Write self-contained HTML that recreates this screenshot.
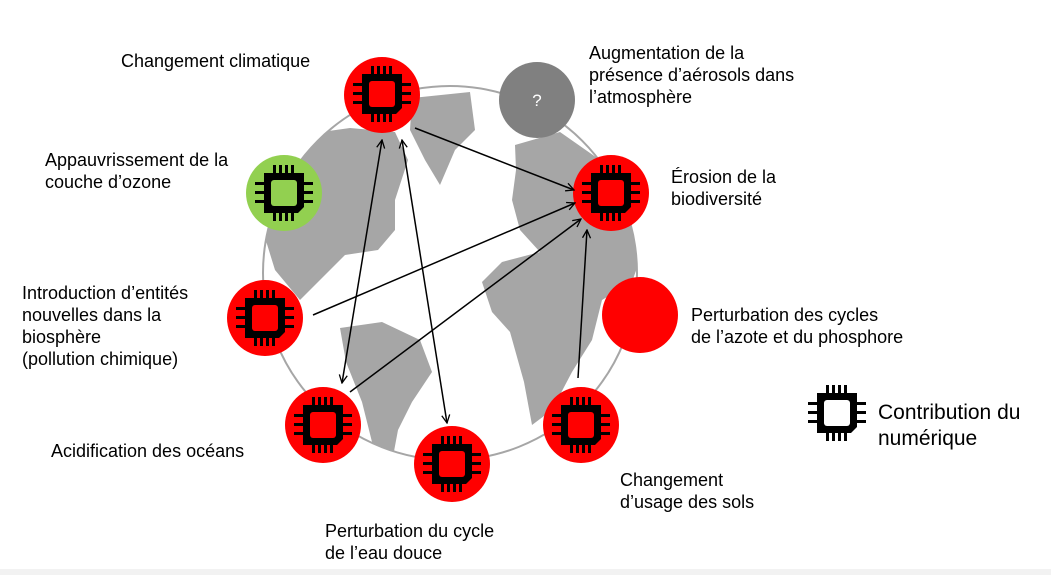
<!DOCTYPE html>
<html><head><meta charset="utf-8"><style>
html,body{margin:0;padding:0;background:#fff;}
body{width:1051px;height:575px;position:relative;overflow:hidden;font-family:"Liberation Sans",Arial,sans-serif;color:#000;}
.t{position:absolute;font-size:18px;line-height:22px;white-space:nowrap;}
.bar{position:absolute;left:0;top:569px;width:1051px;height:6px;background:#f2f2f2;}
</style></head><body>
<svg width="1051" height="575" style="position:absolute;left:0;top:0">
<defs>
<clipPath id="g"><circle cx="450" cy="273" r="187"/></clipPath>
<g id="chip">
<path d="M-20,-20 H20 V14 L14,20 H-20 Z" fill="#000"/>
<g fill="#000">
<rect x="-11" y="-28" width="3" height="9"/><rect x="-5" y="-28" width="3" height="9"/><rect x="1" y="-28" width="3" height="9"/><rect x="7" y="-28" width="3" height="9"/>
<rect x="-11" y="19" width="3" height="9"/><rect x="-5" y="19" width="3" height="9"/><rect x="1" y="19" width="3" height="9"/><rect x="7" y="19" width="3" height="9"/>
<rect x="-29" y="-11" width="10" height="3"/><rect x="-29" y="-2" width="10" height="3"/><rect x="-29" y="7" width="10" height="3"/>
<rect x="19" y="-11" width="10" height="3"/><rect x="19" y="-2" width="10" height="3"/><rect x="19" y="7" width="10" height="3"/>
</g>
</g>
<marker id="a" markerWidth="10" markerHeight="10" refX="9" refY="5" orient="auto" markerUnits="userSpaceOnUse"><path d="M1,1 L9,5 L1,9" fill="none" stroke="#000" stroke-width="1.3"/></marker>
<marker id="s" markerWidth="10" markerHeight="10" refX="1" refY="5" orient="auto" markerUnits="userSpaceOnUse"><path d="M9,1 L1,5 L9,9" fill="none" stroke="#000" stroke-width="1.3"/></marker>
</defs>
<circle cx="450" cy="273" r="187" fill="#fff" stroke="#a6a6a6" stroke-width="2"/>
<g clip-path="url(#g)" fill="#a6a6a6">
<path d="M300,135 L350,128 L395,132 L408,160 L395,200 L395,230 L378,250 L345,255 L320,280 L300,300 L275,270 L258,215 L268,175 Z"/>
<path d="M412,98 L470,92 L475,130 L455,150 L440,185 L425,160 L410,130 Z"/>
<path d="M340,328 L382,322 L420,340 L432,372 L412,402 L398,430 L392,462 L372,442 L362,402 L346,362 Z"/>
<path d="M515,145 L560,132 L600,160 L635,200 L645,245 L632,282 L602,300 L592,340 L572,372 L552,410 L532,425 L524,382 L510,332 L492,312 L482,282 L502,262 L540,252 L520,230 L512,200 L516,170 Z"/>
</g>
<circle cx="382" cy="95" r="38" fill="#ff0000"/><use href="#chip" x="382" y="94"/><rect x="369" y="81" width="26" height="26" rx="3" fill="#ff0000"/>
<circle cx="537" cy="100" r="38" fill="#808080"/><text x="537" y="106" fill="#fff" font-size="17" text-anchor="middle" font-family="Liberation Sans, sans-serif">?</text>
<circle cx="611" cy="193" r="38" fill="#ff0000"/><use href="#chip" x="611" y="193"/><rect x="598" y="180" width="26" height="26" rx="3" fill="#ff0000"/>
<circle cx="284" cy="193" r="38" fill="#92d050"/><use href="#chip" x="284" y="193"/><rect x="271" y="180" width="26" height="26" rx="3" fill="#92d050"/>
<circle cx="265" cy="318" r="38" fill="#ff0000"/><use href="#chip" x="265" y="318"/><rect x="252" y="305" width="26" height="26" rx="3" fill="#ff0000"/>
<circle cx="323" cy="425" r="38" fill="#ff0000"/><use href="#chip" x="323" y="425"/><rect x="310" y="412" width="26" height="26" rx="3" fill="#ff0000"/>
<circle cx="452" cy="464" r="38" fill="#ff0000"/><use href="#chip" x="452" y="464"/><rect x="439" y="451" width="26" height="26" rx="3" fill="#ff0000"/>
<circle cx="581" cy="425" r="38" fill="#ff0000"/><use href="#chip" x="581" y="425"/><rect x="568" y="412" width="26" height="26" rx="3" fill="#ff0000"/>
<circle cx="640" cy="315" r="38" fill="#ff0000"/>
<g stroke="#000" stroke-width="1.5" fill="none">
<line x1="415" y1="128" x2="574" y2="190" marker-end="url(#a)"/>
<line x1="313" y1="315" x2="575" y2="203" marker-end="url(#a)"/>
<line x1="350" y1="392" x2="581" y2="219" marker-end="url(#a)"/>
<line x1="578" y1="378" x2="587" y2="230" marker-end="url(#a)"/>
<line x1="342" y1="383" x2="382" y2="140" marker-start="url(#s)" marker-end="url(#a)"/>
<line x1="402" y1="140" x2="447" y2="423" marker-start="url(#s)" marker-end="url(#a)"/>
</g>
<use href="#chip" x="837" y="413"/><rect x="824" y="400" width="26" height="26" rx="3" fill="#fff"/>
</svg>
<div class="t" style="left:121px;top:50px">Changement climatique</div>
<div class="t" style="left:589px;top:42px">Augmentation de la<br>présence d’aérosols dans<br>l’atmosphère</div>
<div class="t" style="left:45px;top:149px">Appauvrissement de la<br>couche d’ozone</div>
<div class="t" style="left:671px;top:166px">Érosion de la<br>biodiversité</div>
<div class="t" style="left:22px;top:282px">Introduction d’entités<br>nouvelles dans la<br>biosphère<br>(pollution chimique)</div>
<div class="t" style="left:691px;top:304px">Perturbation des cycles<br>de l’azote et du phosphore</div>
<div class="t" style="left:51px;top:440px">Acidification des océans</div>
<div class="t" style="left:620px;top:469px">Changement<br>d’usage des sols</div>
<div class="t" style="left:325px;top:520px">Perturbation du cycle<br>de l’eau douce</div>
<div class="t" style="left:878px;top:400px;font-size:21px;line-height:26px">Contribution du<br>numérique</div>
<div class="bar"></div>
</body></html>
